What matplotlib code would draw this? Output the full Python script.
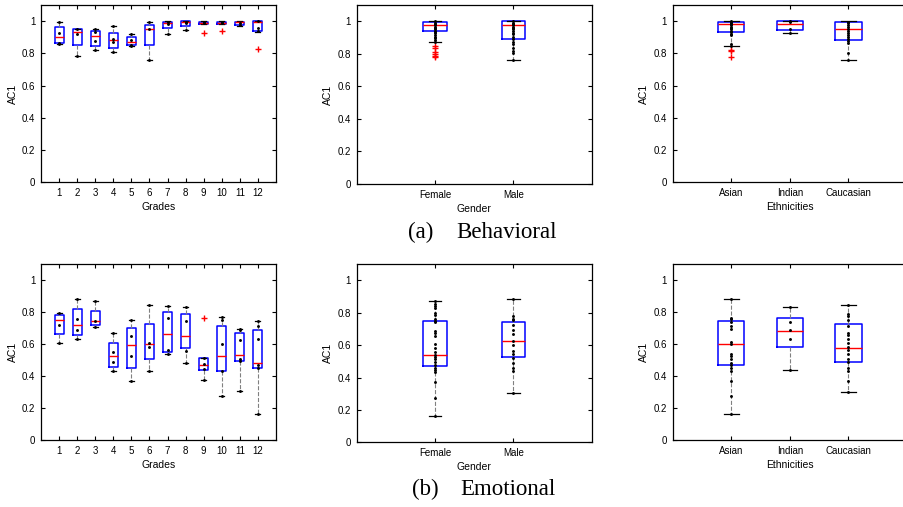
import numpy as np
import matplotlib
matplotlib.use('Agg')
import matplotlib.pyplot as plt

plt.rcParams['font.family'] = ['Liberation Sans', 'DejaVu Sans']

grades = [str(g) for g in range(1, 13)]
genders = ['Female', 'Male']
ethnicities = ['Asian', 'Indian', 'Caucasian']

# box summaries: (whisker low, q1, median, q3, whisker high)
beh_grade_box = [
    (0.857, 0.863, 0.899, 0.961, 0.994),
    (0.785, 0.853, 0.934, 0.948, 0.948),
    (0.818, 0.845, 0.905, 0.938, 0.948),
    (0.807, 0.836, 0.880, 0.928, 0.969),
    (0.845, 0.851, 0.872, 0.901, 0.919),
    (0.756, 0.853, 0.954, 0.975, 0.994),
    (0.923, 0.957, 0.990, 0.994, 1.000),
    (0.942, 0.971, 0.994, 1.000, 1.000),
    (0.981, 0.981, 0.988, 0.994, 1.000),
    (0.983, 0.983, 0.990, 0.994, 1.000),
    (0.967, 0.973, 0.992, 0.996, 1.000),
    (0.934, 0.940, 0.992, 0.998, 1.000),
]
beh_grade_out = [[], [], [], [], [], [], [], [], [0.925], [0.938], [], [0.826]]
beh_grade_pts = [
    [0.994, 0.928, 0.863, 0.857],
    [0.948, 0.917, 0.785],
    [0.948, 0.930, 0.876, 0.818],
    [0.969, 0.888, 0.870, 0.807],
    [0.919, 0.884, 0.851, 0.845],
    [0.994, 0.954, 0.756],
    [0.994, 0.980, 0.923],
    [0.996, 0.988, 0.942],
    [0.992, 0.986],
    [0.994, 0.988],
    [0.990, 0.977],
    [0.998, 0.960, 0.936],
]

emo_grade_box = [
    (0.610, 0.665, 0.750, 0.783, 0.792),
    (0.631, 0.658, 0.723, 0.819, 0.881),
    (0.710, 0.723, 0.744, 0.810, 0.871),
    (0.429, 0.460, 0.523, 0.610, 0.671),
    (0.371, 0.448, 0.592, 0.702, 0.750),
    (0.435, 0.510, 0.598, 0.727, 0.844),
    (0.538, 0.550, 0.663, 0.800, 0.840),
    (0.483, 0.577, 0.652, 0.790, 0.831),
    (0.373, 0.438, 0.469, 0.513, 0.513),
    (0.275, 0.435, 0.523, 0.713, 0.773),
    (0.304, 0.496, 0.535, 0.673, 0.696),
    (0.160, 0.450, 0.479, 0.690, 0.744),
]
emo_grade_out = [[], [], [], [], [], [], [], [], [0.763], [], [], []]
emo_grade_pts = [
    [0.792, 0.719, 0.610],
    [0.881, 0.758, 0.688, 0.631],
    [0.871, 0.746, 0.710],
    [0.671, 0.552, 0.490, 0.429],
    [0.750, 0.654, 0.529, 0.371],
    [0.844, 0.610, 0.583, 0.435],
    [0.840, 0.763, 0.565, 0.538],
    [0.831, 0.748, 0.556, 0.483],
    [0.513, 0.473, 0.446, 0.373],
    [0.773, 0.752, 0.602, 0.435, 0.275],
    [0.696, 0.688, 0.627, 0.510, 0.496, 0.304],
    [0.744, 0.715, 0.631, 0.469, 0.450, 0.160],
]

beh_gender_box = [
    (0.872, 0.938, 0.975, 0.994, 1.000),
    (0.759, 0.889, 0.979, 1.000, 1.000),
]
beh_gender_out = [[0.849, 0.833, 0.814, 0.800, 0.788, 0.779], []]
beh_gender_pts = [
    [1.000, 0.992, 0.983, 0.975, 0.967, 0.959, 0.950, 0.942, 0.934,
     0.926, 0.917, 0.905, 0.897, 0.884, 0.872],
    [1.000, 0.992, 0.984, 0.975, 0.967, 0.959, 0.950, 0.940, 0.930,
     0.919, 0.905, 0.889, 0.872, 0.858, 0.837, 0.817, 0.802, 0.759],
]

beh_eth_box = [
    (0.843, 0.930, 0.983, 0.992, 1.000),
    (0.928, 0.944, 0.981, 1.000, 1.000),
    (0.756, 0.880, 0.948, 0.992, 1.000),
]
beh_eth_out = [[0.822, 0.816, 0.780], [], []]
beh_eth_pts = [
    [1.000, 0.994, 0.988, 0.981, 0.973, 0.965, 0.957, 0.948, 0.940,
     0.930, 0.921, 0.913, 0.859, 0.843],
    [1.000, 0.992, 0.950, 0.928],
    [0.996, 0.988, 0.975, 0.963, 0.950, 0.938, 0.925, 0.913, 0.900,
     0.888, 0.876, 0.863, 0.805, 0.756],
]

emo_gender_box = [
    (0.163, 0.469, 0.541, 0.751, 0.872),
    (0.307, 0.529, 0.628, 0.745, 0.885),
]
emo_gender_out = [[], []]
emo_gender_pts = [
    [0.872, 0.854, 0.841, 0.827, 0.800, 0.784, 0.759, 0.751, 0.741,
     0.687, 0.675, 0.658, 0.605, 0.584, 0.560, 0.541, 0.527, 0.516,
     0.498, 0.477, 0.457, 0.447, 0.432, 0.374, 0.274, 0.163],
    [0.885, 0.780, 0.765, 0.753, 0.724, 0.693, 0.667, 0.628, 0.601,
     0.564, 0.547, 0.519, 0.488, 0.457, 0.442, 0.307],
]

emo_eth_box = [
    (0.163, 0.473, 0.604, 0.748, 0.883),
    (0.440, 0.583, 0.685, 0.767, 0.833),
    (0.304, 0.488, 0.575, 0.729, 0.844),
]
emo_eth_out = [[], [], []]
emo_eth_pts = [
    [0.883, 0.767, 0.758, 0.738, 0.717, 0.694, 0.613, 0.604, 0.538,
     0.525, 0.508, 0.481, 0.471, 0.450, 0.433, 0.373, 0.275, 0.163],
    [0.833, 0.740, 0.688, 0.633, 0.440],
    [0.844, 0.792, 0.779, 0.750, 0.713, 0.671, 0.656, 0.633, 0.610,
     0.585, 0.565, 0.540, 0.508, 0.488, 0.450, 0.435, 0.373, 0.304],
]


def draw_panel(ax, names, boxes, outliers, points, width, xlabel):
    positions = np.arange(1, len(names) + 1)
    stats = []
    for (lo, q1, med, q3, hi), fl in zip(boxes, outliers):
        stats.append(dict(whislo=lo, q1=q1, med=med, q3=q3, whishi=hi, fliers=fl))
    ax.bxp(stats, positions=positions, widths=width, showfliers=True,
           boxprops=dict(color='#0000ff', linewidth=1.1),
           medianprops=dict(color='#ff0000', linewidth=1.0),
           whiskerprops=dict(color='#808080', linestyle='--', linewidth=0.8),
           capprops=dict(color='k', linewidth=0.9),
           capwidths=width * 0.55,
           flierprops=dict(marker='+', markeredgecolor='#ff0000', markersize=4,
                           markeredgewidth=1.0, linestyle='none'))
    for p, vals in zip(positions, points):
        ax.plot(np.full(len(vals), p), vals, 'o', color='k', markersize=2.1,
                markeredgewidth=0, zorder=4)
    ax.set_xlim(0, len(names) + 1)
    ax.set_ylim(0, 1.1)
    ax.set_xticks(positions)
    ax.set_xticklabels(names)
    ax.set_yticks([0, 0.2, 0.4, 0.6, 0.8, 1])
    ax.set_yticklabels(['0', '0.2', '0.4', '0.6', '0.8', '1'])
    ax.tick_params(direction='in', top=True, right=True, length=3, width=0.8,
                   labelsize=7, pad=4)
    ax.set_xlabel(xlabel, fontsize=7.5, labelpad=3)
    ax.set_ylabel('AC1', fontsize=7.5, labelpad=3)
    for s in ax.spines.values():
        s.set_linewidth(0.9)


W, H = 904, 507
fig = plt.figure(figsize=(W / 100, H / 100), dpi=100)


def axes_px(left, top, right, bottom):
    return fig.add_axes([left / W, 1 - bottom / H, (right - left) / W, (bottom - top) / H])


ax1 = axes_px(41, 5, 276, 182.3)
ax2 = axes_px(356.7, 5, 591.7, 184)
ax3 = axes_px(672.7, 5, 907, 182.3)
ax4 = axes_px(41, 264.3, 276, 440)
ax5 = axes_px(356.7, 264.3, 591.7, 442.3)
ax6 = axes_px(672.7, 264.3, 907, 440.3)

draw_panel(ax1, grades, beh_grade_box, beh_grade_out, beh_grade_pts, 0.5, 'Grades')
draw_panel(ax2, genders, beh_gender_box, beh_gender_out, beh_gender_pts, 0.3, 'Gender')
draw_panel(ax3, ethnicities, beh_eth_box, beh_eth_out, beh_eth_pts, 0.45, 'Ethnicities')
draw_panel(ax4, grades, emo_grade_box, emo_grade_out, emo_grade_pts, 0.5, 'Grades')
draw_panel(ax5, genders, emo_gender_box, emo_gender_out, emo_gender_pts, 0.3, 'Gender')
draw_panel(ax6, ethnicities, emo_eth_box, emo_eth_out, emo_eth_pts, 0.45, 'Ethnicities')

serif = dict(family=['Liberation Serif', 'DejaVu Serif'], fontsize=16.5, va='baseline')
fig.text(408 / W, 1 - 238 / H, '(a)', **serif)
fig.text(456.7 / W, 1 - 238 / H, 'Behavioral', **serif)
fig.text(411.7 / W, 1 - 495 / H, '(b)', **serif)
fig.text(460 / W, 1 - 495 / H, 'Emotional', **serif)

fig.savefig('out.png', dpi=100)
